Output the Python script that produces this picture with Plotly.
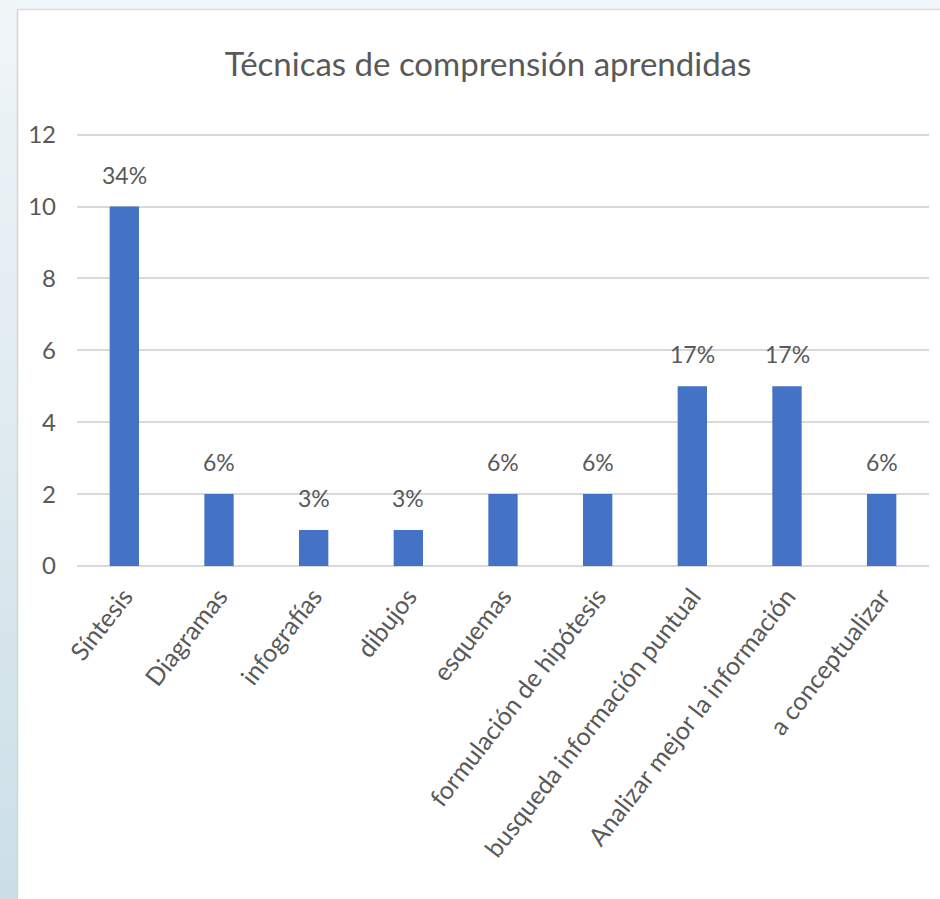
import plotly.graph_objects as go

categories = [
    "Síntesis",
    "Diagramas",
    "infografías",
    "dibujos",
    "esquemas",
    "formulación de hipótesis",
    "busqueda información puntual",
    "Analizar mejor la información",
    "a conceptualizar",
]
counts = [10, 2, 1, 1, 2, 2, 5, 5, 2]
pct_labels = ["34%", "6%", "3%", "3%", "6%", "6%", "17%", "17%", "6%"]
y_ticks = [0, 2, 4, 6, 8, 10, 12]

BAR = "#4472c4"
GRID = "#d9d9d9"
TEXT = "#595959"
FONT = "Lato, sans-serif"

W, H = 940, 899
# top margin leaves a little headroom above 12 so its gridline is drawn
L, R, T, B = 77, 11, 131, 333
Y_MAX = 12.1
PW, PH = W - L - R, H - T - B


def px_x(v):
    return (v - L) / PW


def px_y(v):
    return (H - B - v) / PH


fig = go.Figure(
    go.Bar(
        x=categories,
        y=counts,
        marker_color=BAR,
        marker_line_width=0,
        hoverinfo="x+y",
    )
)

for cat, val, lab in zip(categories, counts, pct_labels):
    fig.add_annotation(
        x=cat, y=val, text=lab, showarrow=False,
        yanchor="middle", yshift=32,
        font=dict(family=FONT, size=23, color=TEXT),
    )

# slide frame: left strip fading from pale to light blue, top strip, thin border
top_rgb, bot_rgb = (240, 245, 248), (204, 223, 231)
steps = 40
for i in range(steps):
    t = i / (steps - 1)
    c = tuple(round(a + (b - a) * t) for a, b in zip(top_rgb, bot_rgb))
    fig.add_shape(
        type="rect", xref="paper", yref="paper",
        x0=px_x(0), x1=px_x(17),
        y0=px_y(H * (i + 1) / steps + 1), y1=px_y(H * i / steps),
        fillcolor="rgb(%d,%d,%d)" % c, line_width=0, layer="below",
    )
fig.add_shape(
    type="rect", xref="paper", yref="paper",
    x0=px_x(17), x1=px_x(W), y0=px_y(9), y1=px_y(0),
    fillcolor="#f3f6f8", line_width=0, layer="below",
)
fig.add_shape(
    type="line", xref="paper", yref="paper",
    x0=px_x(17.5), x1=px_x(17.5), y0=px_y(H), y1=px_y(9.5),
    line=dict(color="#d4d4d4", width=1.5),
)
fig.add_shape(
    type="line", xref="paper", yref="paper",
    x0=px_x(17.5), x1=px_x(W), y0=px_y(9.5), y1=px_y(9.5),
    line=dict(color="#dcdcdc", width=1.5),
)

fig.update_layout(
    width=W,
    height=H,
    margin=dict(l=L, r=R, t=T, b=B),
    paper_bgcolor="white",
    plot_bgcolor="white",
    bargap=0.69,
    showlegend=False,
    title=dict(
        text="Técnicas de comprensión aprendidas",
        x=488 / W, xref="container", xanchor="center",
        y=1 - 64 / H, yref="container", yanchor="middle",
        font=dict(family=FONT, size=33, color=TEXT),
    ),
    xaxis=dict(
        tickangle=-52,
        tickfont=dict(family=FONT, size=25, color=TEXT),
        showgrid=False,
        showline=False,
        ticks="",
        ticklabelstandoff=10,
    ),
    yaxis=dict(
        range=[0, Y_MAX],
        tickvals=y_ticks,
        tickfont=dict(family=FONT, size=24, color=TEXT),
        showgrid=True,
        gridcolor=GRID,
        gridwidth=1.5,
        zeroline=True,
        zerolinecolor=GRID,
        zerolinewidth=1.5,
        showline=False,
        ticks="",
        ticklabelstandoff=20,
    ),
)

fig.write_html(
    "out.html",
    config={"displayModeBar": False},
    post_script="document.body.style.margin='0';",
)
